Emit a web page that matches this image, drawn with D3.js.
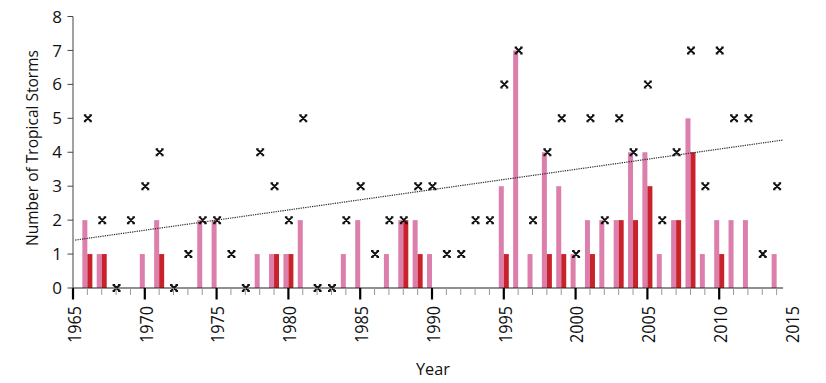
<!DOCTYPE html>
<html>
<head>
<meta charset="utf-8">
<script src="https://cdn.jsdelivr.net/npm/d3@7"></script>
<style>
  html, body { margin: 0; padding: 0; background: #fff; }
  svg { display: block; font-family: "Open Sans", "DejaVu Sans", sans-serif; }
</style>
</head>
<body>
<svg id="chart" width="826" height="383"></svg>
<script>
// ---- Data ----
const years = d3.range(1966, 2015); // 1966 .. 2014
const pinkValues = [2,1,0,0,1,2,0,0,2,2, 0,0,1,1,1,2,0,0,1,2, 0,1,2,2,1,0,0,0,0,3, 7,1,4,3,1,2,2,2,4,4, 1,2,5,1,2,2,2,0,1];
const redValues  = [1,1,0,0,0,1,0,0,0,0, 0,0,0,1,1,0,0,0,0,0, 0,0,2,1,0,0,0,0,0,1, 0,0,1,1,0,1,0,2,2,3, 0,2,4,0,1,0,0,0,0];
const stormMarks = [5,2,0,2,3,4,0,1,2,2, 1,0,4,3,2,5,0,0,2,3, 1,2,2,3,3,1,1,2,2,6, 7,2,4,5,1,5,2,5,4,6, 2,4,7,3,7,5,5,1,3];
const xTickLabels = [1965,1970,1975,1980,1985,1990,1995,2000,2005,2010,2015];
const yTickLabels = [0,1,2,3,4,5,6,7,8];

// ---- Layout ----
const svg = d3.select("#chart");
const x = d3.scaleLinear().domain([1965, 2015]).range([73, 791]);
const y = d3.scaleLinear().domain([0, 8]).range([288, 16.5]);
const barW = 5;
const axisEndYear = 2014.45;

const pink = "#dc7fad", red = "#c8232b";

// Bars
const g = svg.append("g");
g.selectAll("rect.pink").data(years).join("rect")
  .attr("class", "pink")
  .attr("x", (d) => x(d) - barW)
  .attr("width", barW)
  .attr("y", (d, i) => y(pinkValues[i]))
  .attr("height", (d, i) => y(0) - y(pinkValues[i]))
  .attr("fill", pink);
g.selectAll("rect.red").data(years).join("rect")
  .attr("class", "red")
  .attr("x", (d) => x(d))
  .attr("width", barW)
  .attr("y", (d, i) => y(redValues[i]))
  .attr("height", (d, i) => y(0) - y(redValues[i]))
  .attr("fill", red);

// Linear trend of storm counts (least squares)
const mx = d3.mean(years), my = d3.mean(stormMarks);
let sxy = 0, sxx = 0;
years.forEach((yr, i) => { sxy += (yr - mx) * (stormMarks[i] - my); sxx += (yr - mx) * (yr - mx); });
const slope = sxy / sxx;
const trend = (yr) => my + slope * (yr - mx);
svg.append("line")
  .attr("x1", x(1965.15)).attr("y1", y(trend(1965.15)))
  .attr("x2", x(axisEndYear)).attr("y2", y(trend(axisEndYear)))
  .attr("stroke", "#333").attr("stroke-width", 1.2)
  .attr("stroke-dasharray", "1.3,1");

// Markers
const s = 3;
const markPath = `M${-s},${-s}L${s},${s}M${-s},${s}L${s},${-s}` +
  `M${-s-1},${-s}L${-s+1.5},${-s}M${s-1.5},${-s}L${s+1},${-s}` +
  `M${-s-1},${s}L${-s+1.5},${s}M${s-1.5},${s}L${s+1},${s}`;
svg.selectAll("path.mark").data(years).join("path")
  .attr("class", "mark")
  .attr("transform", (d, i) => `translate(${x(d) + 0.5},${y(stormMarks[i])})`)
  .attr("d", markPath)
  .attr("fill", "none").attr("stroke", "#111").attr("stroke-width", 2);

// X axis
const xa = svg.append("g");
xa.append("line").attr("x1", x(1965)).attr("x2", x(axisEndYear))
  .attr("y1", y(0)).attr("y2", y(0)).attr("stroke", "#222").attr("stroke-width", 1.2);
const allTickYears = d3.range(1965, 2015);
xa.selectAll("line.tick").data(allTickYears).join("line")
  .attr("class", "tick")
  .attr("x1", (d) => x(d)).attr("x2", (d) => x(d))
  .attr("y1", y(0))
  .attr("y2", (d) => d % 5 === 0 ? y(0) + 11.5 : y(0) + 7)
  .attr("stroke", (d) => d % 5 === 0 ? "#000" : "#999")
  .attr("stroke-width", (d) => d % 5 === 0 ? 2.2 : 1);
xa.selectAll("text").data(xTickLabels).join("text")
  .attr("transform", (d) => `translate(${x(d) + 7.8},306) rotate(-90)`)
  .attr("text-anchor", "end")
  .attr("font-size", 18)
  .attr("textLength", 37).attr("lengthAdjust", "spacingAndGlyphs")
  .attr("fill", "#111")
  .text((d) => d);

// Y axis
const ya = svg.append("g");
ya.append("line").attr("x1", x(1965)).attr("x2", x(1965))
  .attr("y1", y(0)).attr("y2", y(8)).attr("stroke", "#444").attr("stroke-width", 1);
ya.selectAll("line.tick").data(yTickLabels).join("line")
  .attr("class", "tick")
  .attr("x1", x(1965) - 5.5).attr("x2", x(1965))
  .attr("y1", (d) => y(d)).attr("y2", (d) => y(d))
  .attr("stroke", "#444").attr("stroke-width", 1);
ya.selectAll("text").data(yTickLabels).join("text")
  .attr("x", 62).attr("y", (d) => y(d))
  .attr("dy", "0.36em")
  .attr("text-anchor", "end")
  .attr("font-size", 17)
  .attr("fill", "#111")
  .text((d) => d);

// Titles
svg.append("text")
  .attr("transform", "translate(38,148) rotate(-90)")
  .attr("text-anchor", "middle")
  .attr("font-size", 16.5)
  .attr("textLength", 196).attr("lengthAdjust", "spacingAndGlyphs")
  .attr("fill", "#111")
  .text("Number of Tropical Storms");
svg.append("text")
  .attr("x", 433).attr("y", 375)
  .attr("text-anchor", "middle")
  .attr("font-size", 17)
  .attr("textLength", 34).attr("lengthAdjust", "spacingAndGlyphs")
  .attr("fill", "#111")
  .text("Year");
</script>
</body>
</html>
